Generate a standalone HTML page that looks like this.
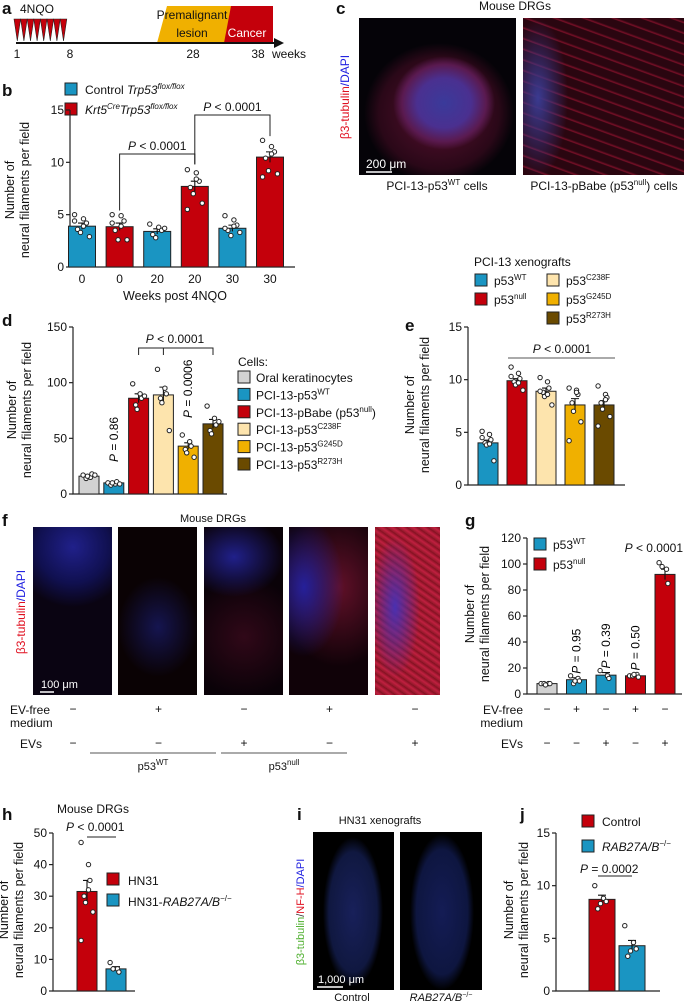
<!DOCTYPE html>
<html><head><meta charset="utf-8"><style>
html,body{margin:0;padding:0;background:#fff}
#root{position:relative;width:685px;height:1004px;overflow:hidden;font-family:"Liberation Sans",sans-serif}
.img{position:absolute;background:#050308}
svg text{font-family:"Liberation Sans",sans-serif}
</style></head><body>
<div id="root">
<div class="img" style="left:359px;top:18px;width:157px;height:157px;background:radial-gradient(ellipse 60px 55px at 85px 85px,#3a3a9a 0%,#4a3090 45%,#5a1a50 70%,transparent 85%),radial-gradient(ellipse 75px 70px at 80px 95px,#5a1030 0%,#2a0818 80%,transparent 100%),#050308"></div>
<div class="img" style="left:523px;top:18px;width:161px;height:157px;background:radial-gradient(ellipse 30px 80px at 15px 80px,#3a3a90 0%,transparent 100%),repeating-linear-gradient(20deg,#2a0610 0px,#2a0610 7px,#7a1028 8px,#2a0610 10px),#1a0408"></div>
<div class="img" style="left:33px;top:527px;width:79px;height:168px;background:radial-gradient(ellipse 60px 60px at 40px 20px,#20208a 0%,#101050 60%,transparent 100%),#0a0412"></div>
<div class="img" style="left:118px;top:527px;width:79px;height:168px;background:radial-gradient(ellipse 40px 50px at 40px 100px,#151550 0%,transparent 100%),#0a0204"></div>
<div class="img" style="left:204px;top:527px;width:79px;height:168px;background:radial-gradient(ellipse 50px 40px at 30px 30px,#20208a 0%,transparent 100%),radial-gradient(ellipse 60px 60px at 40px 110px,#300818 0%,transparent 100%),#0a0208"></div>
<div class="img" style="left:289px;top:527px;width:79px;height:168px;background:radial-gradient(ellipse 40px 70px at 15px 60px,#25209a 0%,transparent 100%),radial-gradient(ellipse 60px 80px at 50px 60px,#601028 0%,transparent 100%),#100208"></div>
<div class="img" style="left:375px;top:527px;width:65px;height:168px;background:radial-gradient(ellipse 25px 70px at 20px 80px,#4a30b0 0%,transparent 100%),repeating-linear-gradient(35deg,#901828 0px,#c02040 3px,#801020 6px),#a01830"></div>
<div class="img" style="left:313px;top:832px;width:81px;height:158px;background:radial-gradient(ellipse 30px 75px at 40px 80px,#18205a 0%,#101840 80%,transparent 100%),#000"></div>
<div class="img" style="left:400px;top:832px;width:82px;height:158px;background:radial-gradient(ellipse 32px 78px at 42px 80px,#141c55 0%,#0e1640 80%,transparent 100%),#000"></div>
<svg id="s" width="685" height="1004" style="position:absolute;left:0;top:0"></svg>
</div>
<script>
const C={blue:'#1a95c2',red:'#c4000b',grey:'#d2d2d2',cream:'#fde4ad',yellow:'#f0b000',brown:'#6a4a00'};
// panel b data
const bCats=['0','0','20','20','30','30'];
const bVals=[3.9,3.85,3.4,7.7,3.7,10.5];
const bErr=[0.3,0.35,0.25,0.5,0.3,0.5];
const bCols=['blue','red','blue','red','blue','red'];
const bTicks=[0,5,10,15];
const bPts=[[5.0,4.6,4.2,3.6,3.3,2.9,4.4,3.9],[5.0,4.9,4.4,3.5,2.6,2.6,4.2,3.9],[4.1,3.8,3.5,3.1,2.8,3.7],[9.3,9.0,8.2,7.6,7.0,6.1,5.5,8.4],[4.9,4.5,4.0,3.5,3.0,3.3,3.7,3.9],[12.1,11.5,11.0,10.4,9.2,8.9,8.6,10.8]];
// panel d
const dVals=[16,10,86,89,43,63];
const dErr=[1,1,4,7,3,4];
const dCols=['grey','blue','red','cream','yellow','brown'];
const dTicks=[0,50,100,150];
const dPts=[[17,15,18,14,16,17],[10,9,11,8,10,9],[99,90,86,80,76,88],[112,95,90,86,82,57],[53,47,43,40,37,33],[79,68,62,57,54,65]];
// panel e
const eVals=[4.0,9.9,8.9,7.6,7.6];
const eErr=[0.25,0.2,0.3,0.6,0.4];
const eCols=['blue','red','cream','yellow','brown'];
const eTicks=[0,5,10,15];
const ePts=[[5.1,4.8,4.3,4.0,3.8,2.3,4.5,3.9],[11.2,10.6,10.1,9.8,9.5,9.0,10.3,9.7],[10.2,9.8,9.2,8.8,8.4,7.6,8.9,8.6],[9.2,9.0,8.6,7.8,7.0,6.0,4.2,8.8],[9.4,8.6,8.3,7.8,7.2,6.5,5.6,8.1]];
// panel g
const gVals=[8,11,14.5,14,92];
const gErr=[0.5,1.5,2,1,4];
const gCols=['grey','blue','blue','red','red'];
const gTicks=[0,20,40,60,80,100,120];
const gPts=[[8,8,8,8,7],[14,12,10,8,10],[18,14,12],[14,15,13,14,15],[101,96,85,98]];
const gEVfree=['−','+','−','+','−'];
const gEVs=['−','−','+','−','+'];
const fEVfree=['−','+','−','+','−'];
const fEVs=['−','−','+','−','+'];
// panel h
const hVals=[31.5,7];
const hErr=[3.5,0.7];
const hCols=['red','blue'];
const hTicks=[0,10,20,30,40,50];
const hPts=[[47,40,35,30,28,25,16,32],[9,7,6,7]];
// panel j
const jVals=[8.7,4.3];
const jErr=[0.4,0.5];
const jCols=['red','blue'];
const jTicks=[0,5,10,15];
const jPts=[[10.0,8.8,8.5,7.8,8.3],[6.2,4.6,4.0,3.3,3.8]];

const S=document.getElementById('s');
const NS='http://www.w3.org/2000/svg';
function el(tag,at,txt){const e=document.createElementNS(NS,tag);for(const k in at)e.setAttribute(k,at[k]);if(txt!=null)e.innerHTML=txt;S.appendChild(e);return e;}
function T(x,y,t,sz,anc,extra){const a={x:x,y:y,'font-size':sz||12,'text-anchor':anc||'start',fill:'#111'};Object.assign(a,extra||{});return el('text',a,t);}
function chart(o){
  const y=v=>o.y0-(v/o.max)*(o.y0-o.yTop);
  const x=i=>o.x1+i*o.step;
  const ax=el('path',{d:`M${o.ax},${o.yTop}V${o.y0}H${o.axEnd}`,stroke:'#222','stroke-width':1.2,fill:'none'});
  
  
  o.ticks.forEach(t=>{
    el('line',{x1:o.ax-4,x2:o.ax,y1:y(t),y2:y(t),stroke:'#222','stroke-width':1.2});
    const tl=T(o.ax-6,y(t)+4,t,12,'end');
    
    
  });
  o.vals.forEach((v,i)=>{
    const r=el('rect',{x:x(i)-o.bw/2,y:y(v),width:o.bw,height:o.y0-y(v),fill:C[o.cols[i]],stroke:'#222','stroke-width':1});
    
    
    el('path',{d:`M${x(i)},${y(v-o.err[i])}V${y(v+o.err[i])}M${x(i)-4},${y(v+o.err[i])}H${x(i)+4}`,stroke:'#111','stroke-width':1.1});
    o.pts[i].forEach((p,k)=>{
      const dx=((k%3)-1)*(o.bw*0.22)+(k%2?1.5:-1.5);
      const c=el('circle',{cx:x(i)+dx,cy:y(p),r:2.2,fill:'#fff',stroke:'#222','stroke-width':1});
      
      
    });
  });
  const yt=el('text',{transform:`translate(${o.ytx},${o.ytY}) rotate(-90)`,'font-size':12.5,'text-anchor':'middle',fill:'#111'},`<tspan x="0" dy="0">Number of</tspan><tspan x="0" dy="15">neural filaments per field</tspan>`);
  
  
  return {x,y};
}
function sq(x,y,c,name){const r=el('rect',{x:x,y:y,width:12,height:12,fill:C[c],stroke:'#222','stroke-width':1});}
function lbl(x,y,t){const e=T(x,y,t,17,'start',{'font-weight':'bold'});}

// ---- panel a
lbl(2,14,'a');
T(20,13,'4NQO',12);
el('polygon',{points:'157,43 167,6 233,6 226,43',fill:'#f0b000'});
el('polygon',{points:'224,43 231,6 273,6 273,43',fill:'#c4000b'});
for(let i=0;i<8;i++){el('polygon',{points:`${14+i*6.6},19 ${20.6+i*6.6},19 ${17.3+i*6.6},41`,fill:'#c4000b',stroke:'#222','stroke-width':0.6});}
el('line',{x1:16,x2:276,y1:43,y2:43,stroke:'#111','stroke-width':2});
el('polygon',{points:'274,38 284,43 274,48',fill:'#111'});
T(192,19,'Premalignant',12,'middle');T(192,37,'lesion',12,'middle');T(247,37,'Cancer',12,'middle',{fill:'#fff'});
T(17,58,'1',12,'middle');T(70,58,'8',12,'middle');T(193,58,'28',12,'middle');T(258,58,'38',12,'middle');T(272,58,'weeks',12);

// ---- panel b
lbl(2,96,'b');
sq(65,83,'blue','legend-control');T(85,94,'Control <tspan font-style="italic">Trp53</tspan><tspan font-style="italic" font-size="8" dy="-5">flox/flox</tspan>',12);
sq(65,103,'red','legend-krt5');T(85,114,'<tspan font-style="italic">Krt5</tspan><tspan font-size="8" dy="-5" font-style="italic">Cre</tspan><tspan dy="5" font-style="italic">Trp53</tspan><tspan font-style="italic" font-size="8" dy="-5">flox/flox</tspan>',12);
const B=chart({name:'b',vals:bVals,err:bErr,cols:bCols,pts:bPts,ticks:bTicks,max:15,y0:267,yTop:110,ax:70,axEnd:295,x1:82,step:37.6,bw:27,ytx:14,ytY:190});
bCats.forEach((c,i)=>T(B.x(i),283,c,12,'middle'));
T(175,300,'Weeks post 4NQO',12.5,'middle');
el('path',{d:`M${B.x(1)},${B.y(5.4)}V154H${B.x(3)}V${B.y(9.8)}`,stroke:'#222',fill:'none','stroke-width':1});
T((B.x(1)+B.x(3))/2,150,'<tspan font-style="italic">P</tspan> &lt; 0.0001',12,'middle');
el('path',{d:`M${B.x(3)},${B.y(9.8)}V115H${B.x(5)}V${B.y(12.5)}`,stroke:'#222',fill:'none','stroke-width':1});
T((B.x(3)+B.x(5))/2,111,'<tspan font-style="italic">P</tspan> &lt; 0.0001',12,'middle');

// ---- panel c
lbl(336,14,'c');
T(515,10,'Mouse DRGs',12,'middle');
el('text',{transform:'translate(349,97) rotate(-90)','font-size':12,'text-anchor':'middle'},'<tspan fill="#e01020">β3-tubulin</tspan><tspan fill="#2020e0">/DAPI</tspan>');
el('line',{x1:366,x2:392,y1:172,y2:172,stroke:'#fff','stroke-width':1.5});
T(366,168,'200 μm',12,'start',{fill:'#fff'});
T(437,190,'PCI-13-p53<tspan font-size="8" dy="-5">WT</tspan><tspan dy="5"> cells</tspan>',12,'middle');
T(604,190,'PCI-13-pBabe (p53<tspan font-size="8" dy="-5">null</tspan><tspan dy="5">) cells</tspan>',12,'middle');

// ---- panel d
lbl(2,326,'d');
const D=chart({name:'d',vals:dVals,err:dErr,cols:dCols,pts:dPts,ticks:dTicks,max:150,y0:494,yTop:327,ax:73,axEnd:227,x1:89,step:24.8,bw:20,ytx:16,ytY:410});
el('path',{d:`M${D.x(2)},355V348H${D.x(5)}V355M${D.x(3)},348V355`,stroke:'#222',fill:'none','stroke-width':1});
T(175,343,'<tspan font-style="italic">P</tspan> &lt; 0.0001',12,'middle');
el('text',{transform:`translate(${D.x(1)+4},462) rotate(-90)`,'font-size':12},'<tspan font-style="italic">P</tspan> = 0.86');
el('text',{transform:`translate(${D.x(4)+4},418) rotate(-90)`,'font-size':12},'<tspan font-style="italic">P</tspan> = 0.0006');
T(238,366,'Cells:',12);
const dLeg=['Oral keratinocytes','PCI-13-p53<tspan font-size="8" dy="-5">WT</tspan>','PCI-13-pBabe (p53<tspan font-size="8" dy="-5">null</tspan><tspan dy="5">)</tspan>','PCI-13-p53<tspan font-size="8" dy="-5">C238F</tspan>','PCI-13-p53<tspan font-size="8" dy="-5">G245D</tspan>','PCI-13-p53<tspan font-size="8" dy="-5">R273H</tspan>'];
dLeg.forEach((t,i)=>{sq(238,371+i*17.4,dCols[i],'legend-d-'+i);T(256,382+i*17.4,t,12);});

// ---- panel e
lbl(405,331,'e');
T(474,266,'PCI-13 xenografts',12);
sq(475,274,'blue','legend-e-wt');T(494,285,'p53<tspan font-size="8" dy="-5">WT</tspan>',12);
sq(475,293,'red','legend-e-null');T(494,304,'p53<tspan font-size="8" dy="-5">null</tspan>',12);
sq(547,274,'cream','legend-e-c238f');T(566,285,'p53<tspan font-size="8" dy="-5">C238F</tspan>',12);
sq(547,293,'yellow','legend-e-g245d');T(566,304,'p53<tspan font-size="8" dy="-5">G245D</tspan>',12);
sq(547,312,'brown','legend-e-r273h');T(566,323,'p53<tspan font-size="8" dy="-5">R273H</tspan>',12);
const E=chart({name:'e',vals:eVals,err:eErr,cols:eCols,pts:ePts,ticks:eTicks,max:15,y0:485,yTop:327,ax:468,axEnd:625,x1:488,step:29,bw:20,ytx:414,ytY:405});
el('line',{x1:508,x2:615,y1:358,y2:358,stroke:'#555','stroke-width':1});
T(562,353,'<tspan font-style="italic">P</tspan> &lt; 0.0001',12,'middle');

// ---- panel f
lbl(2,526,'f');
T(213,522,'Mouse DRGs',11,'middle');
el('text',{transform:'translate(25,612) rotate(-90)','font-size':12,'text-anchor':'middle'},'<tspan fill="#e01020">β3-tubulin</tspan><tspan fill="#2020e0">/DAPI</tspan>');
el('line',{x1:40,x2:54,y1:692,y2:692,stroke:'#fff','stroke-width':1.5});
T(41,688,'100 μm',11,'start',{fill:'#fff'});
T(10,714,'EV-free',12);T(10,727,'medium',12);T(20,748,'EVs',12);
fEVfree.forEach((s,i)=>T(73+i*85.5,713,s,12,'middle'));
fEVs.forEach((s,i)=>T(73+i*85.5,747,s,12,'middle'));
el('line',{x1:90,x2:216,y1:753,y2:753,stroke:'#555','stroke-width':1});
el('line',{x1:221,x2:347,y1:753,y2:753,stroke:'#555','stroke-width':1});
T(153,770,'p53<tspan font-size="8" dy="-5">WT</tspan>',11,'middle');
T(284,770,'p53<tspan font-size="8" dy="-5">null</tspan>',11,'middle');

// ---- panel g
lbl(465,526,'g');
const G=chart({name:'g',vals:gVals,err:gErr,cols:gCols,pts:gPts,ticks:gTicks,max:120,y0:694,yTop:538,ax:527,axEnd:682,x1:547,step:29.5,bw:20,ytx:474,ytY:614});
sq(534,538,'blue','legend-g-wt');T(553,549,'p53<tspan font-size="8" dy="-5">WT</tspan>',12);
sq(534,558,'red','legend-g-null');T(553,569,'p53<tspan font-size="8" dy="-5">null</tspan>',12);
T(683,552,'<tspan font-style="italic">P</tspan> &lt; 0.0001',12,'end');
['0.95','0.39','0.50'].forEach((p,i)=>el('text',{transform:`translate(${G.x(i+1)+4},${G.y(gVals[i+1]+gErr[i+1])-4}) rotate(-90)`,'font-size':12},'<tspan font-style="italic">P</tspan> = '+p));
T(523,714,'EV-free',12,'end');T(523,727,'medium',12,'end');T(523,748,'EVs',12,'end');
gEVfree.forEach((s,i)=>T(G.x(i),713,s,12,'middle'));
gEVs.forEach((s,i)=>T(G.x(i),747,s,12,'middle'));

// ---- panel h
lbl(2,820,'h');
T(57,813,'Mouse DRGs',12);
const H=chart({name:'h',vals:hVals,err:hErr,cols:hCols,pts:hPts,ticks:hTicks,max:50,y0:991,yTop:833,ax:53,axEnd:135,x1:87,step:29,bw:20,ytx:8,ytY:910});
T(66,831,'<tspan font-style="italic">P</tspan> &lt; 0.0001',12);
el('line',{x1:H.x(0),x2:H.x(1),y1:837,y2:837,stroke:'#222','stroke-width':1});
sq(107,873,'red','legend-h-hn31');T(128,885,'HN31',12);
sq(107,894,'blue','legend-h-rab');T(128,906,'HN31-<tspan font-style="italic">RAB27A/B</tspan><tspan font-size="8" dy="-5">−/−</tspan>',12);

// ---- panel i
lbl(297,820,'i');
T(380,824,'HN31 xenografts',11,'middle');
el('text',{transform:'translate(304,912) rotate(-90)','font-size':11,'text-anchor':'middle'},'<tspan fill="#50b030">β3-tubulin</tspan><tspan fill="#333">/</tspan><tspan fill="#e01020">NF-H</tspan><tspan fill="#2020e0">/DAPI</tspan>');
el('line',{x1:317,x2:343,y1:987,y2:987,stroke:'#fff','stroke-width':1.5});
T(318,983,'1,000 μm',11,'start',{fill:'#fff'});
T(352,1001,'Control',11,'middle');
T(441,1001,'<tspan font-style="italic">RAB27A/B</tspan><tspan font-size="7" dy="-4">−/−</tspan>',11,'middle');

// ---- panel j
lbl(520,820,'j');
const J=chart({name:'j',vals:jVals,err:jErr,cols:jCols,pts:jPts,ticks:jTicks,max:15,y0:991,yTop:833,ax:556,axEnd:660,x1:602,step:30,bw:26,ytx:513,ytY:910});
sq(582,815,'red','legend-j-control');T(602,826,'Control',12);
sq(582,840,'blue','legend-j-rab');T(602,851,'<tspan font-style="italic">RAB27A/B</tspan><tspan font-size="8" dy="-5">−/−</tspan>',12);
T(580,873,'<tspan font-style="italic">P</tspan> = 0.0002',12);
el('line',{x1:J.x(0)-4,x2:J.x(1),y1:876,y2:876,stroke:'#222','stroke-width':1});
</script>
</body></html>
